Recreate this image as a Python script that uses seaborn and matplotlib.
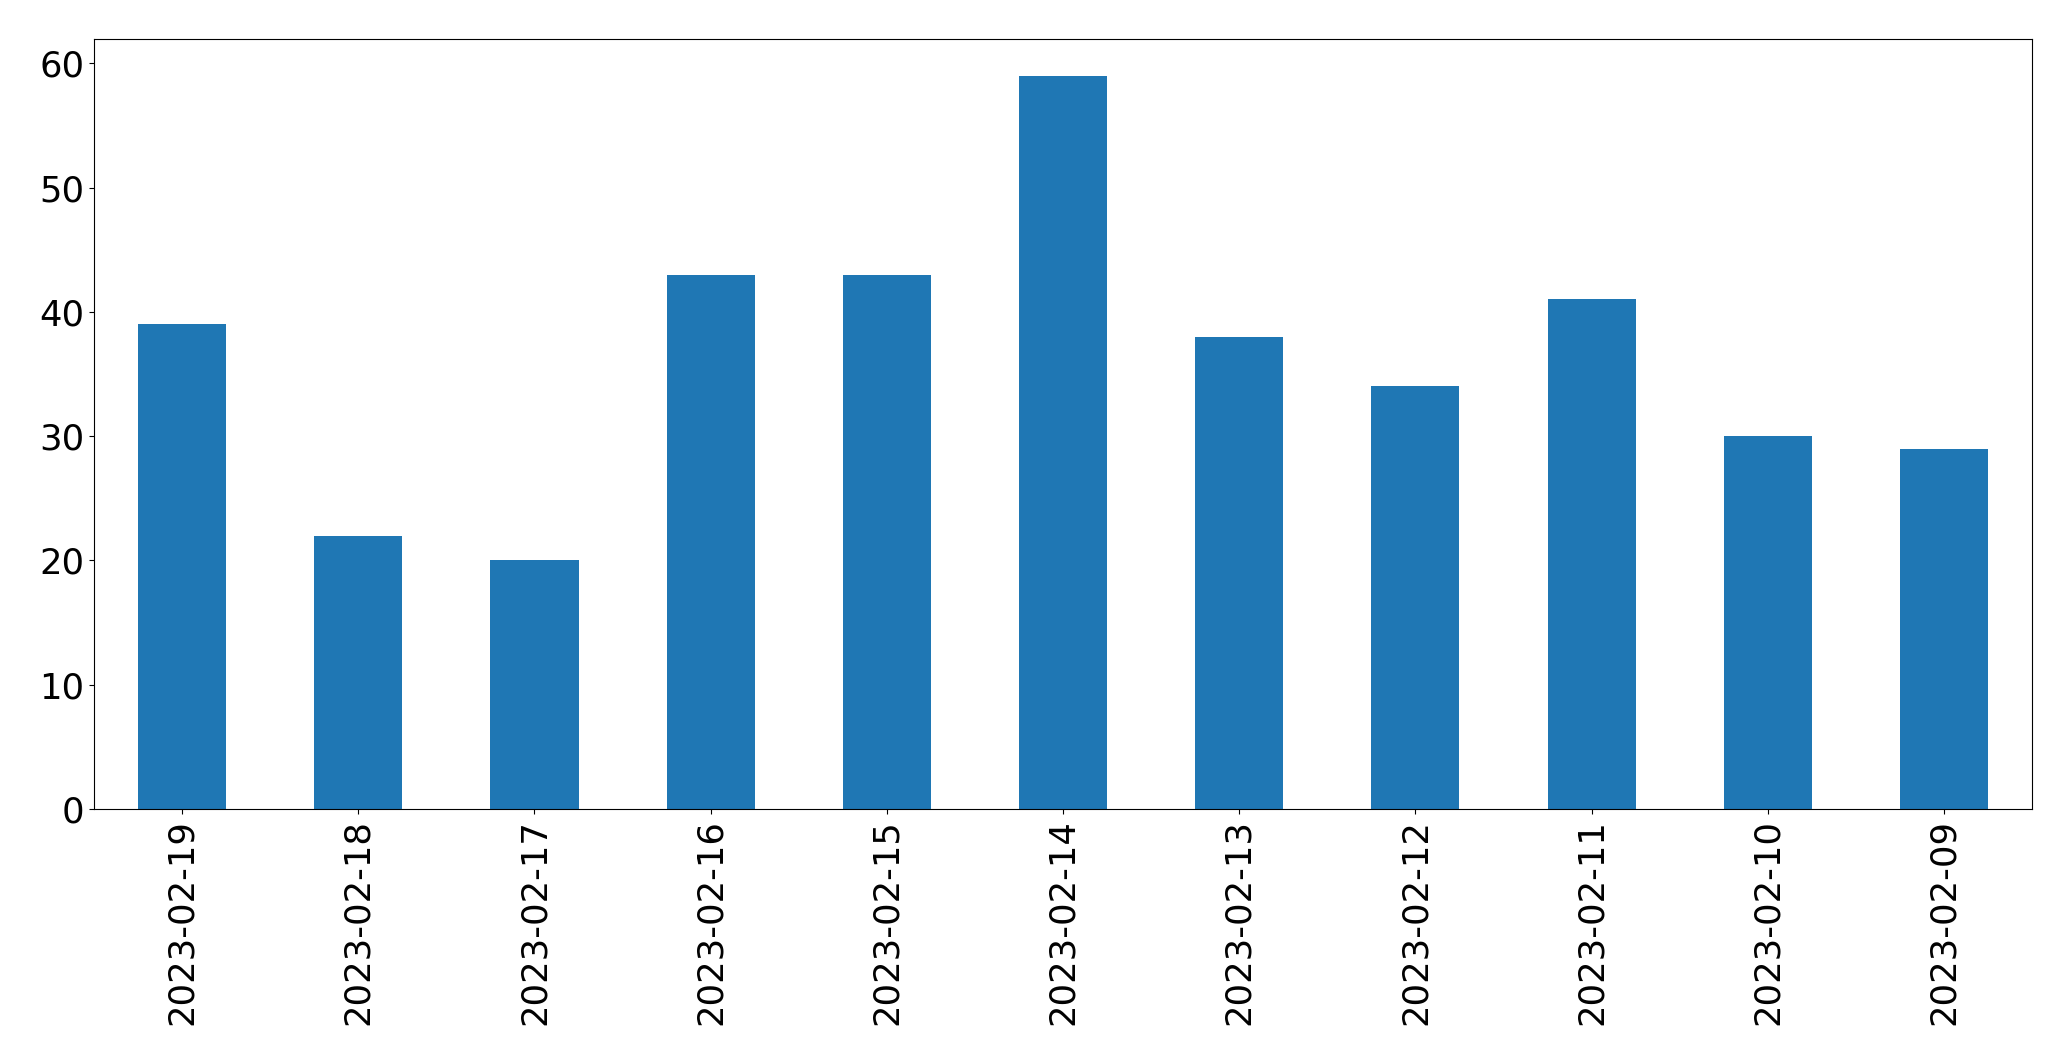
import seaborn as sns
import pandas as pd
import matplotlib.pyplot as plt

dates = ['2023-02-19', '2023-02-18', '2023-02-17', '2023-02-16', '2023-02-15', '2023-02-14',
         '2023-02-13', '2023-02-12', '2023-02-11', '2023-02-10', '2023-02-09']
counts = [39, 22, 20, 43, 43, 59, 38, 34, 41, 30, 29]

df = pd.DataFrame({'date': dates, 'count': counts})

fig, ax = plt.subplots(figsize=(20.71, 10.61), dpi=100)
sns.barplot(data=df, x='date', y='count', order=dates, color='#1f77b4',
            saturation=1, width=0.5, linewidth=0, ax=ax)
ax.set_xlabel('')
ax.set_ylabel('')
ax.set_xlim(-0.5, len(dates) - 0.5)
ax.set_ylim(0, max(counts) * 1.05)
ax.tick_params(axis='both', labelsize=25.5)
plt.xticks(rotation=90)
plt.subplots_adjust(left=0.0454, right=0.9812, top=0.9632, bottom=0.2375)
plt.savefig('out.png', dpi=100)
